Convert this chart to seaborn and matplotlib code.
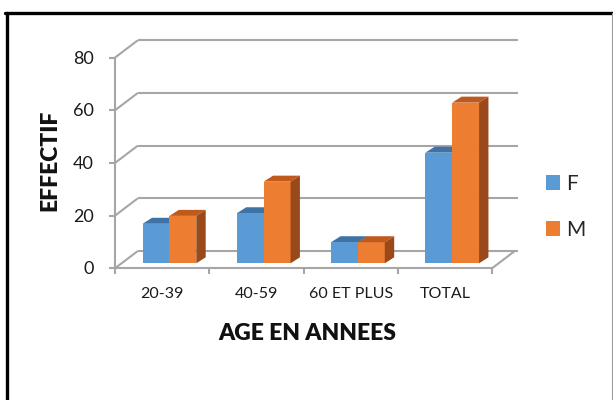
import matplotlib
matplotlib.use("Agg")
import matplotlib.pyplot as plt
import pandas as pd
import seaborn as sns
from matplotlib.lines import Line2D
from matplotlib.patches import Patch, Polygon

# Données
tranches = ["20-39", "40-59", "60 ET PLUS", "TOTAL"]
sexes = ["F", "M"]
effectif_f = [15, 19, 8, 42]
effectif_m = [18, 31, 8, 61]
y_ticks = [0, 20, 40, 60, 80]

COULEURS = {"F": "#5B9BD5", "M": "#ED7D31"}
DESSUS = {"F": "#3F73A6", "M": "#C05A1C"}
COTE = {"F": "#2F5F8F", "M": "#9A4A1A"}
GRILLE = "#A6A6A6"

# décalages (pixels) des plans par rapport au plan des barres
AVANT = (-7.3, -5.0)
FOND = (15.5, 12.3)
PROF = (9.4, 6.0)

sns.set_style("white")
plt.rcParams["font.family"] = ["Lato", "DejaVu Sans"]

df = pd.DataFrame({
    "tranche": tranches * 2,
    "sexe": ["F"] * len(tranches) + ["M"] * len(tranches),
    "effectif": effectif_f + effectif_m,
})

fig = plt.figure(figsize=(6.13, 4.0), dpi=100)
ax = fig.add_axes([122.3 / 613, 1 - 263.3 / 400, 377 / 613, 210.7 / 400])
sns.barplot(data=df, x="tranche", y="effectif", hue="sexe", order=tranches,
            hue_order=sexes, palette=COULEURS, saturation=1, width=0.57,
            linewidth=0, legend=False, ax=ax)
ax.set_xlim(-0.5, len(tranches) - 0.5)
ax.set_ylim(y_ticks[0], y_ticks[-1])
ax.axis("off")

ppx = ax.bbox.width / len(tranches)
ppy = ax.bbox.height / (y_ticks[-1] - y_ticks[0])


def dec(x, y, plan):
    return x + plan[0] / ppx, y + plan[1] / ppy


def ligne(p1, p2, **kw):
    ax.add_line(Line2D([p1[0], p2[0]], [p1[1], p2[1]], color=GRILLE, lw=1.5,
                       clip_on=False, zorder=0.3, solid_capstyle="butt", **kw))


x_min, x_max = -0.5, len(tranches) - 0.5

# mur du fond + axe vertical avant
for v in y_ticks:
    ligne(dec(x_min, v, FOND), dec(x_max + 0.03, v, FOND))
    ligne(dec(x_min, v, AVANT), dec(x_min, v, FOND))
    a = dec(x_min, v, AVANT)
    ligne(a, (a[0] - 6 / ppx, a[1]))
    ax.annotate(str(v), xy=a, xytext=(-21, -1), textcoords="offset pixels",
                ha="right", va="center", fontsize=13, color="#1a1a1a",
                annotation_clip=False)
ligne(dec(x_min, y_ticks[0], AVANT), dec(x_min, y_ticks[-1], AVANT))

# sol
ligne(dec(x_min, 0, AVANT), dec(x_max, 0, AVANT))
ligne(dec(x_max, 0, AVANT), dec(x_max, 0, FOND))
for i in range(len(tranches) + 1):
    a = dec(x_min + i, 0, AVANT)
    ligne(a, (a[0], a[1] - 6 / ppy))
for i, t in enumerate(tranches):
    ax.annotate(t, xy=dec(i, 0, AVANT), xytext=(0, -26), textcoords="offset pixels",
                ha="center", va="center", fontsize=11.5, color="#1a1a1a",
                annotation_clip=False)

# faces 3D des barres
for cont, s in zip(ax.containers, sexes):
    z = 0.8 if s == "F" else 3
    for bar in cont:
        x0, w, h = bar.get_x(), bar.get_width(), bar.get_height()
        dessus = [(x0, h), (x0 + w, h), dec(x0 + w, h, PROF), dec(x0, h, PROF)]
        cote = [(x0 + w, 0), (x0 + w, h), dec(x0 + w, h, PROF), dec(x0 + w, 0, PROF)]
        ax.add_patch(Polygon(dessus, closed=True, fc=DESSUS[s], ec="none",
                             clip_on=False, zorder=z))
        ax.add_patch(Polygon(cote, closed=True, fc=COTE[s], ec="none",
                             clip_on=False, zorder=z))

# titres des axes
fig.text(307 / 613, 1 - 333 / 400, "AGE EN ANNEES", ha="center", va="center",
         fontsize=16.5, fontweight="heavy", color="#111111")
fig.text(50 / 613, 1 - 160 / 400, "EFFECTIF", ha="center", va="center",
         rotation=90, fontsize=16.5, fontweight="heavy", color="#111111")

# légende
poignees = [Patch(fc=COULEURS[s], ec="none") for s in sexes]
fig.legend(poignees, sexes, loc="center left",
           bbox_to_anchor=(527 / 613, 1 - 207 / 400), frameon=False,
           fontsize=15, handlelength=0.7, handleheight=0.7,
           labelspacing=1.25, handletextpad=0.3)

# cadre
fig.add_artist(Line2D([7 / 613, 7 / 613], [0, 1 - 12.5 / 400], color="black",
                      lw=2.4, transform=fig.transFigure))
fig.add_artist(Line2D([5.5 / 613, 1], [1 - 12.5 / 400, 1 - 12.5 / 400],
                      color="black", lw=2.4, transform=fig.transFigure))
fig.add_artist(Line2D([612 / 613, 612 / 613], [0, 1 - 12.5 / 400], color="#999999",
                      lw=0.8, transform=fig.transFigure))

fig.savefig("out.png", dpi=100)
